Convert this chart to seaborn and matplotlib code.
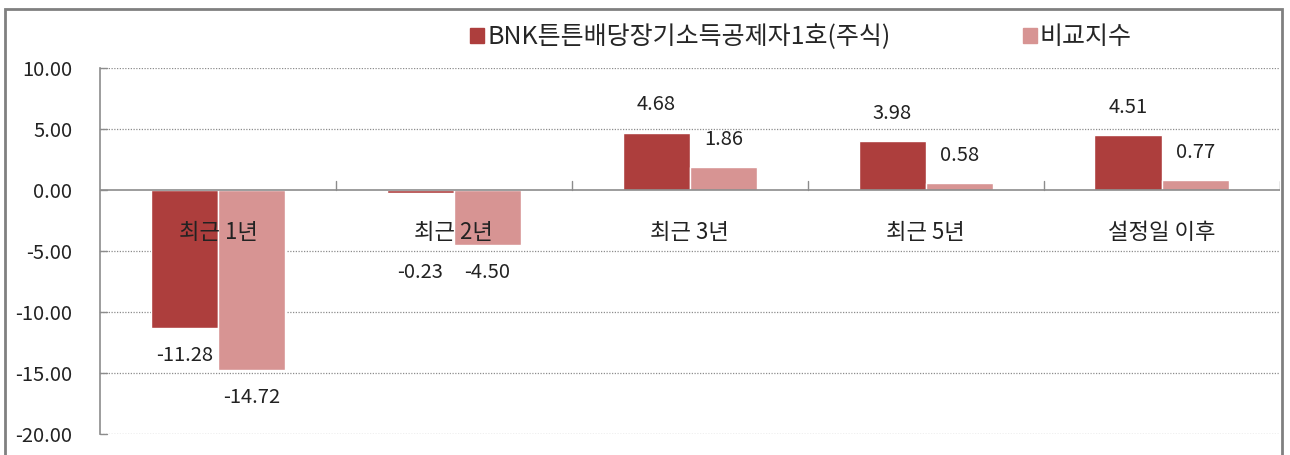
import matplotlib
matplotlib.use('Agg')
import matplotlib.pyplot as plt
import numpy as np
import pandas as pd
import seaborn as sns
from matplotlib.patches import Rectangle

# chart data
categories = ['최근 1년', '최근 2년', '최근 3년', '최근 5년', '설정일 이후']
fund_name = 'BNK튼튼배당장기소득공제자1호(주식)'
bench_name = '비교지수'
fund_values = [-11.28, -0.23, 4.68, 3.98, 4.51]
bench_values = [-14.72, -4.50, 1.86, 0.58, 0.77]
y_ticks = [10, 5, 0, -5, -10, -15, -20]

colors = ['#AD3E3D', '#D79493']

sns.set_theme(style='white')
plt.rcParams['font.family'] = ['Noto Sans CJK KR', 'DejaVu Sans']

df = pd.DataFrame({
    'category': categories * 2,
    'series': [fund_name] * len(categories) + [bench_name] * len(categories),
    'value': fund_values + bench_values,
})

fig = plt.figure(figsize=(12.9, 4.55), dpi=100)
ax = fig.add_axes([0.0775, 0.046, 0.9145, 0.805])

sns.barplot(data=df, x='category', y='value', hue='series', palette=colors,
            width=0.57, gap=0, saturation=1, ax=ax, legend=False)

ax.set_ylim(-20, 10)
ax.set_xlim(-0.5, len(categories) - 0.5)
ax.set_yticks(y_ticks)
ax.set_yticklabels([f'{t:.2f}' for t in y_ticks], fontsize=14.5, color='#222222')
ax.set_xticks([])
ax.set_xlabel('')
ax.set_ylabel('')
ax.tick_params(axis='y', length=0, pad=20)

# dotted grid
for t in y_ticks:
    if t != 0:
        ax.axhline(t, color='#8c8c8c', lw=0.9, ls=(0, (1, 1.2)), zorder=0)

for s in ['top', 'right', 'bottom']:
    ax.spines[s].set_visible(False)
ax.spines['left'].set_color('#8c8c8c')
ax.spines['left'].set_linewidth(1.2)

# zero axis with tick marks between categories
ax.axhline(0, color='#8c8c8c', lw=1.2, zorder=3)
for b in np.arange(0.5, len(categories), 1.0):
    ax.plot([b, b], [0, 0.7], color='#8c8c8c', lw=1.0, zorder=3)
for t in y_ticks:
    ax.plot([-0.5, -0.47], [t, t], color='#8c8c8c', lw=1.0, zorder=3, clip_on=False)

# category labels inside plot
for i, c in enumerate(categories):
    ax.text(i, -3.45, c, ha='center', va='center', fontsize=16, color='#222222', zorder=4)

# value labels
off = 0.57 / 4
for i in range(len(categories)):
    group_min = min(fund_values[i], bench_values[i])
    for j, vals in enumerate([fund_values, bench_values]):
        v = vals[i]
        x = i - off if j == 0 else i + off
        if v >= 0:
            ax.annotate(f'{v:.2f}', (x, v), xytext=(0, 20), textcoords='offset points',
                        ha='center', va='center', fontsize=14.5, color='#222222')
        else:
            anchor = group_min if abs(v) < 1 else v
            ax.annotate(f'{v:.2f}', (x, anchor), xytext=(0, -20), textcoords='offset points',
                        ha='center', va='center', fontsize=14.5, color='#222222')

# legend
handles = [Rectangle((0, 0), 1, 1, color=c) for c in colors]
fig.legend(handles, [fund_name, bench_name], loc='center left',
           bbox_to_anchor=(0.355, 0.918), ncol=2, frameon=False,
           fontsize=18, handlelength=0.55, handleheight=0.55, handletextpad=0.12,
           columnspacing=5.3, borderpad=0)

# outer border
fig.patches.append(Rectangle((0.004, -0.01), 0.99, 0.99, transform=fig.transFigure,
                             fill=False, edgecolor='#808080', lw=2))

fig.savefig('out.png', dpi=100)
